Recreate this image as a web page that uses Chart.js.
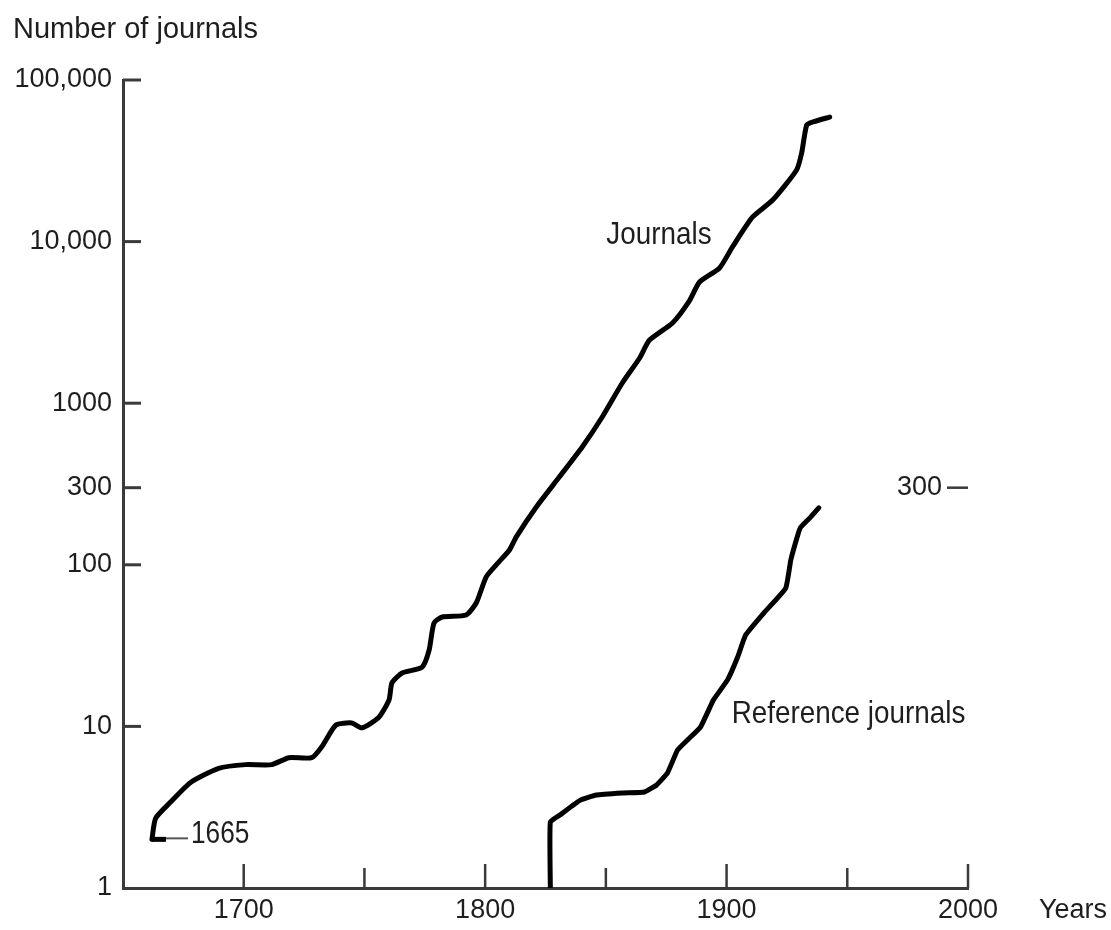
<!DOCTYPE html>
<html>
<head>
<meta charset="utf-8">
<script src="https://cdn.jsdelivr.net/npm/chart.js@4/dist/chart.umd.min.js"></script>
<style>
html,body{margin:0;padding:0;background:#fff;}
canvas{display:block;}
</style>
</head>
<body>
<canvas id="c" width="1111" height="930"></canvas>
<script>
// ---------------- data ----------------
const journalYears = [1662,1663.5,1669.7,1678,1689.6,1700.8,1711.6,1718.7,1728.2,1732.4,1738.2,1744.8,1749,1756,1760.2,1761.4,1765.6,1773.9,1776.8,1778.8,1782.2,1792.1,1796.3,1800.4,1804.6,1810,1812.9,1821.2,1830.7,1840.2,1848.5,1856.8,1864,1868,1877.6,1884.6,1888.8,1897.1,1902.5,1910.8,1919.1,1929,1931.1,1933.2,1935.7,1942.7];
const journalCounts = [2.0,2.7,3.4,4.5,5.5,5.8,5.8,6.4,6.4,7.5,10.2,10.5,9.8,11.4,14.6,18.6,21.4,23.3,29.7,43.6,47.5,48.9,58,84,100,123,149,228,349,536,822,1334,1905,2450,3136,4300,5623,6870,9300,14200,18070,27760,35340,52700,54970,59000];
const refYears = [1827,1827,1831,1839.4,1846.1,1857.3,1866,1871,1875.5,1879.7,1883.8,1889.2,1894.6,1900.4,1904.6,1907.9,1915.4,1924.5,1926.6,1929.5,1930.7,1934.9,1938.2];
const refCounts = [1,2.56,2.83,3.5,3.76,3.87,3.93,4.34,5.15,7.14,8.24,9.91,14.6,19.4,26.9,36.8,50.3,71.8,107,153,171,198,225];
const yTickValues = [1,10,100,300,1000,10000,100000];
const yTickLabels = ['1','10','100','300','1000','10,000','100,000'];
const xLabelYears = [1700,1800,1900,2000];
const xTickMarkYears = [1700,1750,1800,1850,1900,1950,2000];
const seriesNames = ['Journals','Reference journals'];
const startYearLabel = '1665';
const rightTickValue = 300;
const yAxisTitle = 'Number of journals';
const xAxisTitle = 'Years';

// ---------------- styles ----------------
const FAM = '"Liberation Sans", Arial, sans-serif';
const TICK_SIZE = 27;
const ANNOT_SIZE = 32;
const ANNOT_STRETCH = 0.87;
const TITLE_SIZE = 29;
const TEXT = '#1e1e1e';
const AXIS = '#3a3a3a';

function seg(ctx, x1, y1, x2, y2){ ctx.beginPath(); ctx.moveTo(x1,y1); ctx.lineTo(x2,y2); ctx.stroke(); }
function condText(ctx, txt, x, y, size, sx){
  ctx.save();
  ctx.translate(x, y);
  ctx.scale(sx, 1);
  ctx.font = size + 'px ' + FAM;
  ctx.textAlign = 'left';
  ctx.textBaseline = 'middle';
  ctx.fillText(txt, 0, 0);
  ctx.restore();
}

const annot = {
  id: 'annot',
  afterDraw(chart){
    const {ctx, chartArea: ca, scales: {x, y}} = chart;
    ctx.save();
    ctx.lineCap = 'butt';
    ctx.strokeStyle = AXIS;
    // inward y tick marks
    ctx.lineWidth = 3;
    yTickValues.forEach(v => {
      if (v === yTickValues[0]) return;
      const py = y.getPixelForValue(v);
      seg(ctx, ca.left, py, ca.left + 18, py);
    });
    // inward x tick marks
    ctx.lineWidth = 2.5;
    xTickMarkYears.forEach(v => {
      const px = x.getPixelForValue(v);
      seg(ctx, px, ca.bottom, px, ca.bottom - (v % 100 === 0 ? 24 : 20));
    });
    // right-hand 300 mark
    const p300 = y.getPixelForValue(rightTickValue);
    ctx.lineWidth = 2.5;
    seg(ctx, ca.right - 21, p300, ca.right, p300);
    ctx.fillStyle = TEXT;
    ctx.font = TICK_SIZE + 'px ' + FAM;
    ctx.textAlign = 'right';
    ctx.textBaseline = 'middle';
    ctx.fillText(String(rightTickValue), ca.right - 26, p300);
    // 1665 arrow + label
    const sx = x.getPixelForValue(journalYears[0]);
    const sy = y.getPixelForValue(journalCounts[0]);
    ctx.strokeStyle = '#000'; ctx.lineWidth = 5;
    seg(ctx, sx, sy, sx + 14, sy);
    ctx.strokeStyle = '#555'; ctx.lineWidth = 2;
    seg(ctx, sx + 14, sy - 1, sx + 36, sy - 1);
    condText(ctx, startYearLabel, sx + 39, sy - 5, ANNOT_SIZE, 0.82);
    // series labels
    condText(ctx, seriesNames[0], x.getPixelForValue(1850.2), y.getPixelForValue(11000), ANNOT_SIZE, ANNOT_STRETCH);
    condText(ctx, seriesNames[1], x.getPixelForValue(1902.1), y.getPixelForValue(11.9), ANNOT_SIZE, ANNOT_STRETCH);
    // axis titles
    ctx.font = TITLE_SIZE + 'px ' + FAM;
    ctx.textAlign = 'left';
    ctx.textBaseline = 'alphabetic';
    ctx.fillText(yAxisTitle, 13, 38);
    ctx.font = TICK_SIZE + 'px ' + FAM;
    ctx.textBaseline = 'middle';
    ctx.fillText(xAxisTitle, ca.right + 71, ca.bottom + 23);
    ctx.restore();
  }
};

const toPts = (xs, ys) => xs.map((v, i) => ({x: v, y: ys[i]}));

new Chart(document.getElementById('c'), {
  type: 'line',
  data: {
    datasets: [
      { label: seriesNames[0], data: toPts(journalYears, journalCounts),
        borderColor: '#000', borderWidth: 5, pointRadius: 0, tension: 0.2,
        borderJoinStyle: 'round', borderCapStyle: 'round', fill: false },
      { label: seriesNames[1], data: toPts(refYears, refCounts),
        borderColor: '#000', borderWidth: 5, pointRadius: 0, tension: 0.12,
        borderJoinStyle: 'round', borderCapStyle: 'round', fill: false }
    ]
  },
  options: {
    responsive: false,
    animation: false,
    devicePixelRatio: 1,
    layout: { padding: { left: 0, top: 80, right: 143, bottom: 0 } },
    plugins: { legend: { display: false }, tooltip: { enabled: false }, title: { display: false } },
    scales: {
      x: {
        type: 'linear', position: 'bottom', min: 1650, max: 2000,
        grid: { display: false, drawTicks: false },
        border: { display: true, color: AXIS, width: 3 },
        afterBuildTicks: s => { s.ticks = xLabelYears.map(v => ({value: v})); },
        afterFit: s => { s.height = 42; s.paddingLeft = 0; s.paddingRight = 0; },
        ticks: { autoSkip: false, maxRotation: 0, padding: 6, color: TEXT,
                 font: { family: FAM, size: TICK_SIZE },
                 callback: v => String(v) }
      },
      y: {
        type: 'logarithmic', position: 'left', min: 1, max: 100000,
        grid: { display: false, drawTicks: false },
        border: { display: true, color: AXIS, width: 3 },
        afterBuildTicks: s => { s.ticks = yTickValues.map(v => ({value: v})); },
        afterFit: s => { s.width = 123; s.paddingTop = 0; s.paddingBottom = 0; },
        ticks: { autoSkip: false, padding: 11, color: TEXT,
                 font: { family: FAM, size: TICK_SIZE },
                 callback: v => { const i = yTickValues.indexOf(v); return i >= 0 ? yTickLabels[i] : ''; } }
      }
    }
  },
  plugins: [annot]
});
</script>
</body>
</html>
